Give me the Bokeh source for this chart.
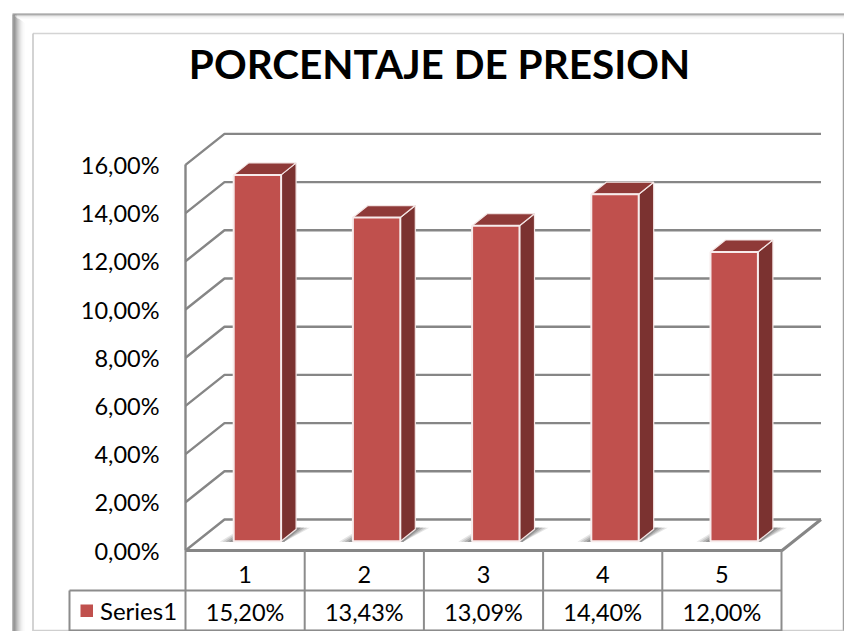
from bokeh.plotting import figure
from bokeh.models import Range1d, LinearAxis, FixedTicker
from bokeh.core.properties import value
from bokeh.embed import file_html
from bokeh.resources import INLINE

title = "PORCENTAJE DE PRESION"
categories = ["1", "2", "3", "4", "5"]
series_name = "Series1"
values = [15.20, 13.43, 13.09, 14.40, 12.00]
value_labels = ["15,20%", "13,43%", "13,09%", "14,40%", "12,00%"]
ticks = [0, 2, 4, 6, 8, 10, 12, 14, 16]
tick_labels = ["0,00%", "2,00%", "4,00%", "6,00%", "8,00%", "10,00%", "12,00%", "14,00%", "16,00%"]

W, H = 844, 631     # 852x639 window less the page's 8px margin
FONT = "Lato"
CAT_PX = 119.2      # pixels per category
VAL_PX = 24.1       # pixels per percent
X1_PX = 244.6       # pixel of category 1's centre
Y0_PX = 550.0       # pixel of value 0

def PX(x):          # canvas pixel -> category scale
    return 1 + (x - X1_PX) / CAT_PX
def PY(y):          # canvas pixel -> value scale
    return (Y0_PX - y) / VAL_PX

p = figure(width=W, height=H, output_backend="svg", toolbar_location=None,
           x_range=Range1d(PX(0), PX(W)), y_range=Range1d(PY(H), PY(0)),
           x_axis_type=None, y_axis_type=None, min_border=0,
           outline_line_color=None)
p.grid.visible = False

GRAY = "#868686"
DX, DY = 39 / CAT_PX, 31 / VAL_PX   # depth of the floor in data units

def line(xs, ys, color=GRAY, w=2.0):
    p.line([PX(x) for x in xs], [PY(y) for y in ys], line_color=color, line_width=w)

# outer picture frame with bevel
for i, c in enumerate(["#8a8a8a", "#8a8a8a", "#808080", "#9a9a9a", "#ababab", "#bcbcbc", "#cbcbcb",
                       "#d9d9d9", "#e4e4e4", "#eeeeee", "#f5f5f5", "#fafafa"]):
    x = 12.5 + i
    y0 = 14 + i * 0.75 if i > 3 else 14
    line([x, x], [y0, H], c, 1.2)
for i, c in enumerate(["#8f8f8f", "#8f8f8f", "#d8d8d8", "#ececec", "#f6f6f6"]):
    y = 13.5 + i
    line([12 + i * 1.2, W], [y, y], c, 1.2)

# chart area border
line([32.5, 843], [33, 33], "#d4d4d4", 1.5)
line([843, 843], [33, H], "#a0a0a0", 1.5)
line([32.5, 32.5], [33, H], "#c4c4c4", 1.5)
line([32.5, 843], [630, 630], "#cfcfcf", 1.5)

# back wall gridlines and side wall diagonals, driven by the value axis
x_l, x_r = PX(185), PX(781.5)
for t in ticks:
    p.line([x_l, x_l + DX, x_r + DX], [t, t + DY, t + DY], line_color=GRAY, line_width=2.4)
p.line([x_l, x_r, x_r + DX], [0, 0, DY], line_color=GRAY, line_width=3)

# bars
half = 23.7 / CAT_PX
off_x = 12.3 / CAT_PX
off_y = 9.3 / VAL_PX
bx, by = 15 / CAT_PX, 12 / VAL_PX   # bar depth
cats = list(range(1, len(values) + 1))

for c, v in zip(cats, values):
    l, r = c + off_x - half, c + off_x + half
    b = off_y
    t = off_y + v
    # floor shadow
    for grow, col in [(1.0, "#e6e6e6"), (0.8, "#cccccc"), (0.58, "#aeaeae"), (0.34, "#8e8e8e")]:
        sx = 14 * grow / CAT_PX
        p.patch([l - sx, l, r + bx, r + bx + sx, r + 0.2 * bx],
                [b - 0.5 / VAL_PX, b + 8 * grow / VAL_PX, b + by + 1.5 / VAL_PX, b + by + 1.5 / VAL_PX, b - 0.5 / VAL_PX],
                fill_color=col, line_color=None)
    # side and top
    p.patch([r, r + bx, r + bx, r], [b, b + by, t + by, t],
            fill_color="#7b3230", line_color="#f4e6e5", line_width=1.2)
    p.patch([l, l + bx, r + bx, r], [t, t + by, t + by, t],
            fill_color="#8f3a38", line_color="#f4e6e5", line_width=1.2)
    p.quad(left=l, right=r, bottom=b, top=t,
           fill_color="#c0504d", line_color="#f7ecec", line_width=2)

# data table
col_edges = [185, 304.2, 423.4, 542.6, 661.8, 781]
for x in col_edges:
    line([x, x], [550, H], "#8c8c8c", 2)
line([69, 781], [590, 590], "#8c8c8c", 2)
line([69, 781], [630, 630], "#8c8c8c", 2)
line([69, 69], [590, H], "#8c8c8c", 2)
p.quad(left=PX(80), right=PX(92.5), top=PY(604), bottom=PY(616.5), fill_color="#c0504d", line_color=None)

FS = "23.5px"
p.text(x=cats, y=[PY(574)] * 5, text=categories, text_font=value(FONT), text_font_size=FS,
       text_color="black", text_align="center", text_baseline="middle")
p.text(x=cats, y=[PY(611)] * 5, text=value_labels, text_font=value(FONT), text_font_size=FS,
       text_color="black", text_align="center", text_baseline="middle")
p.text(x=[PX(99.5)], y=[PY(610)], text=[series_name], text_font=value(FONT), text_font_size="24px",
       text_color="black", text_align="left", text_baseline="middle")

# title
p.text(x=[PX(439)], y=[PY(62.5)], text=[title], text_font=value(FONT), text_font_size="40.5px",
       text_font_style="bold", text_color="black", text_align="center", text_baseline="middle")

# value axis
ax = LinearAxis(fixed_location=PX(185), bounds=(0, 16), ticker=FixedTicker(ticks=ticks),
                major_label_overrides=dict(zip(ticks, tick_labels)),
                major_tick_line_color=None, minor_tick_line_color=None,
                major_tick_in=0, major_tick_out=0, minor_tick_in=0, minor_tick_out=0,
                axis_line_color=GRAY, axis_line_width=2.4,
                major_label_standoff=26,
                major_label_text_font=FONT, major_label_text_font_size=FS,
                major_label_text_color="black")
p.add_layout(ax, "left")

open("out.html", "w").write(file_html(p, INLINE))
